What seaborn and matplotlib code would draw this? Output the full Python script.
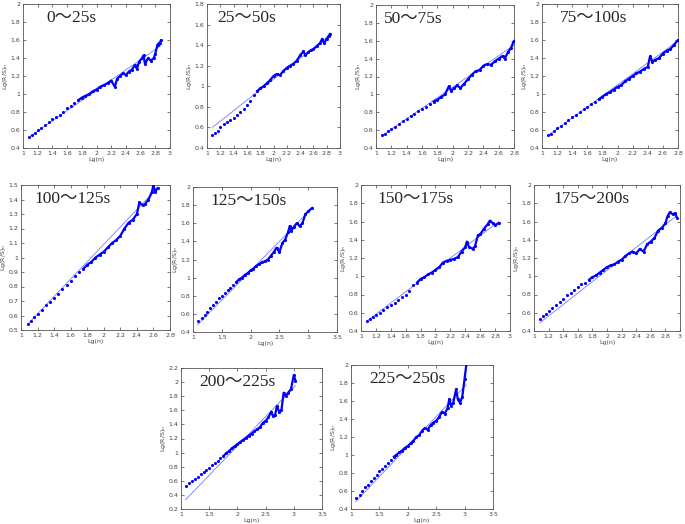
import matplotlib
matplotlib.use("Agg")
import matplotlib.pyplot as plt
import seaborn as sns
import pandas as pd

sns.set_style("ticks")
plt.rcParams['font.family'] = ['DejaVu Sans']

titles = ["0～25s", "25～50s", "50～75s", "75～100s", "100～125s",
          "125～150s", "150～175s", "175～200s", "200～225s", "225～250s"]

x1 = [1.08, 1.12, 1.16, 1.2, 1.25, 1.3, 1.35, 1.4, 1.45, 1.5, 1.55, 1.6, 1.65, 1.7, 1.75, 1.8, 1.85, 1.9, 1.95, 2.0, 2.05, 2.1, 2.15, 2.2, 2.25, 2.28, 2.32, 2.36, 2.4, 2.44, 2.48, 2.52, 2.55, 2.58, 2.62, 2.64, 2.66, 2.7, 2.74, 2.78, 2.8, 2.83, 2.86, 2.88]
y1 = [0.52, 0.545, 0.57, 0.595, 0.625, 0.655, 0.69, 0.72, 0.74, 0.77, 0.8, 0.84, 0.87, 0.9, 0.93, 0.96, 0.98, 1.0, 1.03, 1.05, 1.08, 1.1, 1.12, 1.15, 1.08, 1.17, 1.2, 1.23, 1.21, 1.25, 1.27, 1.32, 1.28, 1.36, 1.4, 1.43, 1.33, 1.4, 1.37, 1.4, 1.45, 1.55, 1.57, 1.6]
x2 = [1.08, 1.12, 1.16, 1.2, 1.25, 1.3, 1.35, 1.4, 1.45, 1.5, 1.55, 1.6, 1.65, 1.7, 1.75, 1.8, 1.85, 1.9, 1.95, 2.0, 2.05, 2.1, 2.15, 2.2, 2.25, 2.3, 2.35, 2.4, 2.45, 2.48, 2.52, 2.56, 2.6, 2.65, 2.7, 2.73, 2.76, 2.8, 2.83, 2.85]
y2 = [0.53, 0.55, 0.57, 0.6, 0.63, 0.65, 0.67, 0.69, 0.72, 0.75, 0.78, 0.82, 0.86, 0.92, 0.95, 0.98, 1.0, 1.03, 1.06, 1.1, 1.12, 1.11, 1.15, 1.18, 1.2, 1.22, 1.25, 1.3, 1.34, 1.3, 1.33, 1.35, 1.36, 1.39, 1.42, 1.46, 1.42, 1.46, 1.49, 1.51]
x3 = [1.08, 1.12, 1.16, 1.2, 1.25, 1.3, 1.35, 1.4, 1.45, 1.5, 1.55, 1.6, 1.65, 1.7, 1.75, 1.8, 1.85, 1.9, 1.95, 1.98, 2.02, 2.06, 2.1, 2.15, 2.2, 2.25, 2.3, 2.35, 2.4, 2.45, 2.5, 2.55, 2.6, 2.65, 2.68, 2.72, 2.76, 2.8]
y3 = [0.54, 0.56, 0.59, 0.61, 0.64, 0.67, 0.7, 0.73, 0.76, 0.78, 0.81, 0.84, 0.86, 0.89, 0.92, 0.94, 0.97, 1.0, 1.09, 1.04, 1.07, 1.1, 1.07, 1.12, 1.17, 1.22, 1.26, 1.27, 1.32, 1.34, 1.33, 1.37, 1.4, 1.43, 1.4, 1.47, 1.52, 1.6]
x4 = [1.08, 1.12, 1.16, 1.2, 1.25, 1.3, 1.35, 1.4, 1.45, 1.5, 1.55, 1.6, 1.65, 1.7, 1.75, 1.8, 1.85, 1.9, 1.95, 2.0, 2.05, 2.1, 2.15, 2.2, 2.25, 2.3, 2.35, 2.4, 2.43, 2.46, 2.5, 2.55, 2.6, 2.65, 2.7, 2.75, 2.8]
y4 = [0.54, 0.56, 0.59, 0.62, 0.65, 0.68, 0.71, 0.74, 0.77, 0.8, 0.83, 0.86, 0.89, 0.91, 0.94, 0.97, 1.0, 1.02, 1.05, 1.08, 1.1, 1.14, 1.17, 1.2, 1.23, 1.25, 1.28, 1.3, 1.42, 1.36, 1.38, 1.4, 1.45, 1.48, 1.5, 1.55, 1.6]
x5 = [1.08, 1.12, 1.16, 1.2, 1.25, 1.3, 1.35, 1.4, 1.45, 1.5, 1.55, 1.6, 1.65, 1.7, 1.75, 1.8, 1.85, 1.9, 1.95, 2.0, 2.05, 2.1, 2.15, 2.2, 2.25, 2.3, 2.35, 2.4, 2.43, 2.47, 2.5, 2.54, 2.58, 2.6, 2.62, 2.65]
y5 = [0.54, 0.56, 0.59, 0.61, 0.64, 0.67, 0.69, 0.72, 0.75, 0.78, 0.81, 0.84, 0.87, 0.9, 0.92, 0.95, 0.97, 1.0, 1.02, 1.04, 1.07, 1.1, 1.12, 1.15, 1.2, 1.24, 1.26, 1.3, 1.38, 1.36, 1.37, 1.4, 1.45, 1.5, 1.45, 1.48]
x6 = [1.08, 1.15, 1.2, 1.25, 1.3, 1.35, 1.4, 1.45, 1.5, 1.55, 1.6, 1.65, 1.7, 1.75, 1.8, 1.85, 1.9, 1.95, 2.0, 2.05, 2.1, 2.15, 2.2, 2.25, 2.3, 2.35, 2.4, 2.45, 2.5, 2.55, 2.6, 2.65, 2.68, 2.71, 2.75, 2.8, 2.85, 2.9, 2.95, 3.0, 3.07]
y6 = [0.52, 0.56, 0.59, 0.62, 0.66, 0.7, 0.73, 0.77, 0.8, 0.83, 0.86, 0.89, 0.92, 0.95, 0.98, 1.0, 1.03, 1.05, 1.08, 1.1, 1.13, 1.15, 1.17, 1.18, 1.2, 1.24, 1.28, 1.33, 1.28, 1.38, 1.42, 1.5, 1.57, 1.52, 1.56, 1.6, 1.57, 1.6, 1.7, 1.73, 1.77]
x7 = [1.08, 1.12, 1.16, 1.2, 1.25, 1.3, 1.35, 1.4, 1.45, 1.5, 1.55, 1.6, 1.65, 1.7, 1.75, 1.8, 1.85, 1.9, 1.95, 2.0, 2.05, 2.1, 2.15, 2.2, 2.25, 2.3, 2.35, 2.4, 2.42, 2.45, 2.5, 2.53, 2.57, 2.6, 2.65, 2.7, 2.73, 2.77, 2.8, 2.85]
y7 = [0.51, 0.53, 0.55, 0.57, 0.6, 0.63, 0.66, 0.68, 0.71, 0.74, 0.77, 0.8, 0.84, 0.9, 0.93, 0.97, 0.99, 1.02, 1.04, 1.07, 1.1, 1.15, 1.17, 1.18, 1.19, 1.21, 1.27, 1.32, 1.38, 1.32, 1.3, 1.33, 1.45, 1.46, 1.52, 1.57, 1.61, 1.58, 1.56, 1.58]
x8 = [1.08, 1.12, 1.16, 1.2, 1.25, 1.3, 1.35, 1.4, 1.45, 1.5, 1.55, 1.6, 1.65, 1.7, 1.75, 1.8, 1.85, 1.9, 1.95, 2.0, 2.05, 2.1, 2.15, 2.2, 2.25, 2.3, 2.35, 2.4, 2.45, 2.5, 2.55, 2.6, 2.65, 2.7, 2.75, 2.8, 2.83, 2.86, 2.9, 2.93, 2.96]
y8 = [0.53, 0.56, 0.59, 0.62, 0.65, 0.69, 0.72, 0.75, 0.79, 0.82, 0.85, 0.88, 0.91, 0.93, 0.96, 0.99, 1.01, 1.04, 1.07, 1.1, 1.12, 1.13, 1.16, 1.18, 1.22, 1.25, 1.27, 1.25, 1.3, 1.27, 1.35, 1.38, 1.42, 1.5, 1.53, 1.58, 1.66, 1.7, 1.68, 1.69, 1.64]
x9 = [1.08, 1.15, 1.2, 1.25, 1.3, 1.35, 1.4, 1.45, 1.5, 1.55, 1.6, 1.65, 1.7, 1.75, 1.8, 1.85, 1.9, 1.95, 2.0, 2.05, 2.1, 2.15, 2.2, 2.25, 2.3, 2.35, 2.4, 2.45, 2.5, 2.55, 2.6, 2.63, 2.67, 2.7, 2.74, 2.78, 2.82, 2.86, 2.9, 2.95, 3.0, 3.03]
y9 = [0.53, 0.57, 0.6, 0.63, 0.66, 0.69, 0.72, 0.75, 0.78, 0.82, 0.85, 0.88, 0.92, 0.95, 0.99, 1.02, 1.06, 1.09, 1.12, 1.15, 1.18, 1.21, 1.24, 1.27, 1.3, 1.33, 1.36, 1.42, 1.45, 1.5, 1.58, 1.52, 1.54, 1.66, 1.58, 1.6, 1.85, 1.8, 1.85, 1.9, 2.1, 2.02]
x10 = [1.08, 1.15, 1.2, 1.25, 1.3, 1.35, 1.4, 1.45, 1.5, 1.55, 1.6, 1.65, 1.7, 1.75, 1.8, 1.85, 1.9, 1.95, 2.0, 2.05, 2.1, 2.15, 2.2, 2.25, 2.3, 2.35, 2.4, 2.45, 2.5, 2.55, 2.6, 2.65, 2.7, 2.73, 2.76, 2.8, 2.85, 2.88, 2.92, 2.96, 3.0, 3.04]
y10 = [0.52, 0.56, 0.6, 0.64, 0.67, 0.71, 0.75, 0.78, 0.82, 0.85, 0.88, 0.91, 0.95, 0.98, 1.0, 1.03, 1.05, 1.08, 1.1, 1.13, 1.16, 1.2, 1.22, 1.27, 1.3, 1.28, 1.33, 1.36, 1.38, 1.42, 1.48, 1.46, 1.52, 1.62, 1.55, 1.58, 1.73, 1.62, 1.58, 1.65, 1.85, 2.05]

fit_x = [[1.08, 2.88], [1.08, 2.85], [1.08, 2.8], [1.08, 2.8], [1.08, 2.65],
         [1.08, 3.07], [1.08, 2.85], [1.08, 2.95], [1.08, 3.03], [1.08, 3.03]]
fit_y = [[0.52, 1.54], [0.6, 1.5], [0.54, 1.55], [0.54, 1.59], [0.54, 1.48],
         [0.48, 1.77], [0.51, 1.6], [0.49, 1.66], [0.33, 1.95], [0.48, 1.78]]

xs = [x1, x2, x3, x4, x5, x6, x7, x8, x9, x10]
ys = [y1, y2, y3, y4, y5, y6, y7, y8, y9, y10]

xlims = [(1, 3, 0.2), (1, 3, 0.2), (1, 2.8, 0.2), (1, 2.8, 0.2), (1, 2.8, 0.2),
         (1, 3.5, 0.5), (1, 3, 0.2), (1, 3, 0.2), (1, 3.5, 0.5), (1, 3.5, 0.5)]
ylims = [(0.4, 2, 0.2), (0.4, 1.8, 0.2), (0.4, 2, 0.2), (0.4, 2, 0.2), (0.5, 1.5, 0.1),
         (0.4, 2, 0.2), (0.4, 2, 0.2), (0.4, 2, 0.2), (0.2, 2.2, 0.2), (0.4, 2, 0.2)]

boxes = [[23, 4, 170, 148], [207, 4, 340, 148], [376, 5, 514, 148], [542, 4, 678, 148],
         [21, 185, 170, 330], [193, 187, 337, 332], [361, 185, 510, 331], [534, 185, 680, 331],
         [181, 368, 322, 509], [351, 365, 493, 509]]
title_x = [0.16, 0.075, 0.06, 0.13, 0.09, 0.12, 0.11, 0.13, 0.13, 0.13]

W, H = 685, 524
fig = plt.figure(figsize=(W / 100, H / 100), dpi=100)


def ticks(a, b, s):
    out = []
    v = a
    while v <= b + 1e-9:
        out.append(round(v, 4))
        v += s
    return out


def fmt(v):
    s = ("%.1f" % v)
    if s.endswith(".0"):
        s = s[:-2]
    return s


for i in range(10):
    x0, y0, x1p, y1p = boxes[i]
    hpx = y1p - y0
    ax = fig.add_axes([x0 / W, 1 - y1p / H, (x1p - x0) / W, hpx / H])
    df = pd.DataFrame({"x": xs[i], "y": ys[i]})
    sns.scatterplot(data=df, x="x", y="y", ax=ax, color="#0000ff", s=5,
                    linewidth=0, zorder=3)
    sns.lineplot(data=df[df["x"] >= 1.75], x="x", y="y", ax=ax, color="#0000ff",
                 lw=1.6, sort=False, zorder=3)
    fdf = pd.DataFrame({"x": fit_x[i], "y": fit_y[i]})
    sns.lineplot(data=fdf, x="x", y="y", ax=ax, color="#7878ff", lw=0.6, zorder=2)
    xa, xb, xs_ = xlims[i]
    ya, yb, ys_ = ylims[i]
    ax.set_xlim(xa, xb)
    ax.set_ylim(ya, yb)
    xt = ticks(xa, xb, xs_)
    yt = ticks(ya, yb, ys_)
    ax.set_xticks(xt)
    ax.set_xticklabels([fmt(v) for v in xt])
    ax.set_yticks(yt)
    ax.set_yticklabels([fmt(v) for v in yt])
    ax.tick_params(direction="in", length=2, width=0.5, labelsize=4.5, pad=2,
                   top=True, right=True, colors="#444444")
    for sp in ax.spines.values():
        sp.set_linewidth(0.6)
        sp.set_color("#555555")
    ax.set_xlabel("Lg(n)", fontsize=4.5, labelpad=1, color="#444444")
    ax.set_ylabel(r"Lg(R/S)$_n$", fontsize=4.5, labelpad=0.5, color="#444444")
    ax.text(title_x[i], 1 - 14 / hpx, titles[i], transform=ax.transAxes, fontsize=12.5,
            family=["Liberation Serif", "Noto Sans CJK SC"], va="center", ha="left")

fig.savefig("out.png", dpi=100)
